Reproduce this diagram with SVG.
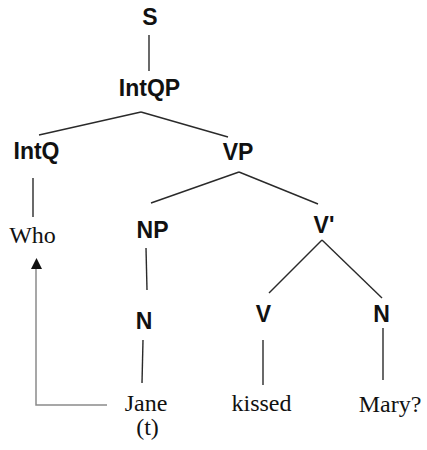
<svg xmlns="http://www.w3.org/2000/svg" width="427" height="450" viewBox="0 0 427 450">
  <defs>
    <style>
      .cat { font-family: "Liberation Sans", Arial, sans-serif; font-weight: bold; font-size: 23px; fill: #111; text-anchor: middle; }
      .word { font-family: "Liberation Serif", "Times New Roman", serif; font-size: 24px; fill: #111; text-anchor: middle; }
      .edge { stroke: #2a2a2a; stroke-width: 1.4; fill: none; }
      .move { stroke: #8a8a8a; stroke-width: 1.5; fill: none; }
    </style>
  </defs>
  <rect width="427" height="450" fill="#ffffff"/>

  <!-- tree branches -->
  <g id="connectors">
    <line class="edge" x1="149" y1="35" x2="149" y2="71"/>
    <line class="edge" x1="141" y1="112" x2="39" y2="135"/>
    <line class="edge" x1="141" y1="112" x2="228" y2="137"/>
    <line class="edge" x1="33" y1="178" x2="33" y2="217"/>
    <line class="edge" x1="239" y1="172" x2="151" y2="203"/>
    <line class="edge" x1="239" y1="172" x2="318" y2="204"/>
    <line class="edge" x1="146" y1="248" x2="147" y2="290"/>
    <line class="edge" x1="322" y1="240" x2="269" y2="293"/>
    <line class="edge" x1="322" y1="240" x2="382" y2="298"/>
    <line class="edge" x1="143" y1="340" x2="142" y2="383"/>
    <line class="edge" x1="263" y1="340" x2="263" y2="385"/>
    <line class="edge" x1="383" y1="328" x2="383" y2="380"/>
    <!-- movement trace from Jane (t) back up to Who -->
    <path class="move" d="M107,405 L36,405 L36,269"/>
    <path d="M31,269 L36.5,258 L42,269 Z" fill="#111"/>
  </g>

  <g id="node-S"><text class="cat" x="150" y="25">S</text></g>
  <g id="node-IntQP"><text class="cat" x="149.5" y="96">IntQP</text></g>
  <g id="node-IntQ"><text class="cat" x="36.5" y="159">IntQ</text></g>
  <g id="node-VP"><text class="cat" x="238" y="160">VP</text></g>
  <g id="node-NP"><text class="cat" x="152.5" y="238">NP</text></g>
  <g id="node-Vbar"><text class="cat" x="324" y="233">V'</text></g>
  <g id="node-N1"><text class="cat" x="144" y="329">N</text></g>
  <g id="node-V"><text class="cat" x="263.5" y="322">V</text></g>
  <g id="node-N2"><text class="cat" x="381.5" y="322">N</text></g>
  <g id="node-Who"><text class="word" x="32.5" y="243">Who</text></g>
  <g id="node-Jane">
    <text class="word" x="146" y="411">Jane</text>
    <text class="word" x="147.5" y="435">(t)</text>
  </g>
  <g id="node-kissed"><text class="word" x="261.5" y="411">kissed</text></g>
  <g id="node-Mary"><text class="word" x="390" y="412">Mary?</text></g>
</svg>
